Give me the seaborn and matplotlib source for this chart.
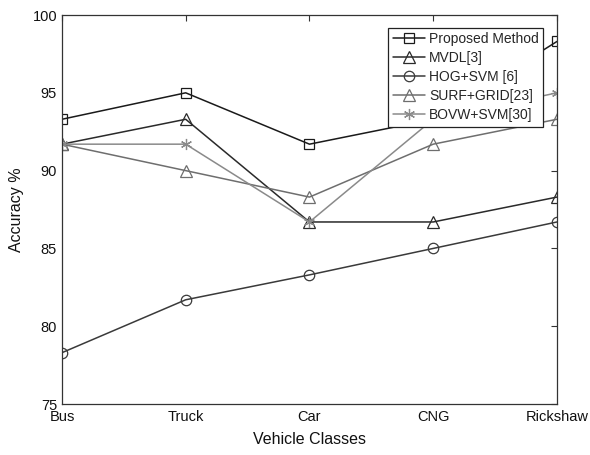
import pandas as pd
import matplotlib.pyplot as plt
import seaborn as sns

# data
classes = ['Bus', 'Truck', 'Car', 'CNG', 'Rickshaw']
proposed = [93.3, 95.0, 91.7, 93.3, 98.3]
mvdl = [91.7, 93.3, 86.7, 86.7, 88.3]
hog_svm = [78.3, 81.7, 83.3, 85.0, 86.7]
surf_grid = [91.7, 90.0, 88.3, 91.7, 93.3]
bovw_svm = [91.7, 91.7, 86.7, 93.3, 95.0]

series = {
    'Proposed Method': proposed,
    'MVDL[3]': mvdl,
    'HOG+SVM [6]': hog_svm,
    'SURF+GRID[23]': surf_grid,
    'BOVW+SVM[30]': bovw_svm,
}
# marker, colour, size ; (6, 2, 0) is a matlab-like asterisk
styles = {
    'Proposed Method': ('s', '#1a1a1a', 6.5),
    'MVDL[3]': ('^', '#2a2a2a', 8.5),
    'HOG+SVM [6]': ('o', '#3a3a3a', 7.5),
    'SURF+GRID[23]': ('^', '#6e6e6e', 8.5),
    'BOVW+SVM[30]': ((6, 2, 0), '#8a8a8a', 8),
}

sns.set_style('white')
plt.rcParams['font.family'] = ['Liberation Sans', 'DejaVu Sans']

fig = plt.figure(figsize=(5.9, 4.55), dpi=100)
ax = fig.add_axes([0.105, 0.112, 0.839, 0.855])

for name, vals in series.items():
    marker, color, ms = styles[name]
    df = pd.DataFrame({'x': range(len(classes)), 'y': vals})
    sns.lineplot(data=df, x='x', y='y', ax=ax, color=color, lw=1.1,
                 marker=marker, markersize=ms, markerfacecolor='none',
                 markeredgecolor=color, markeredgewidth=0.9, label=name)

ax.set_xlim(0, len(classes) - 1)
ax.set_ylim(75, 100)
ax.set_xticks(range(len(classes)))
ax.set_xticklabels(classes)
ax.set_yticks([75, 80, 85, 90, 95, 100])
ax.tick_params(direction='in', top=True, right=True, labelsize=10.5,
               labelcolor='#111111', length=4, width=0.8, color='#333333')
ax.tick_params(axis='x', pad=4)
for s in ax.spines.values():
    s.set_color('#333333')
    s.set_linewidth(0.9)
ax.set_xlabel('Vehicle Classes', fontsize=11.5, labelpad=6, color='#111111')
ax.set_ylabel('Accuracy %', fontsize=11.5, labelpad=6, color='#111111')

leg = ax.legend(loc='upper right', bbox_to_anchor=(0.972, 0.967), fontsize=10,
                frameon=True, fancybox=False, edgecolor='#222222', framealpha=1,
                handlelength=2.3, handletextpad=0.3, labelspacing=0.36,
                borderpad=0.32, borderaxespad=0)
leg.get_frame().set_linewidth(0.9)
leg.set_zorder(5)

fig.savefig('out.png', dpi=100)
